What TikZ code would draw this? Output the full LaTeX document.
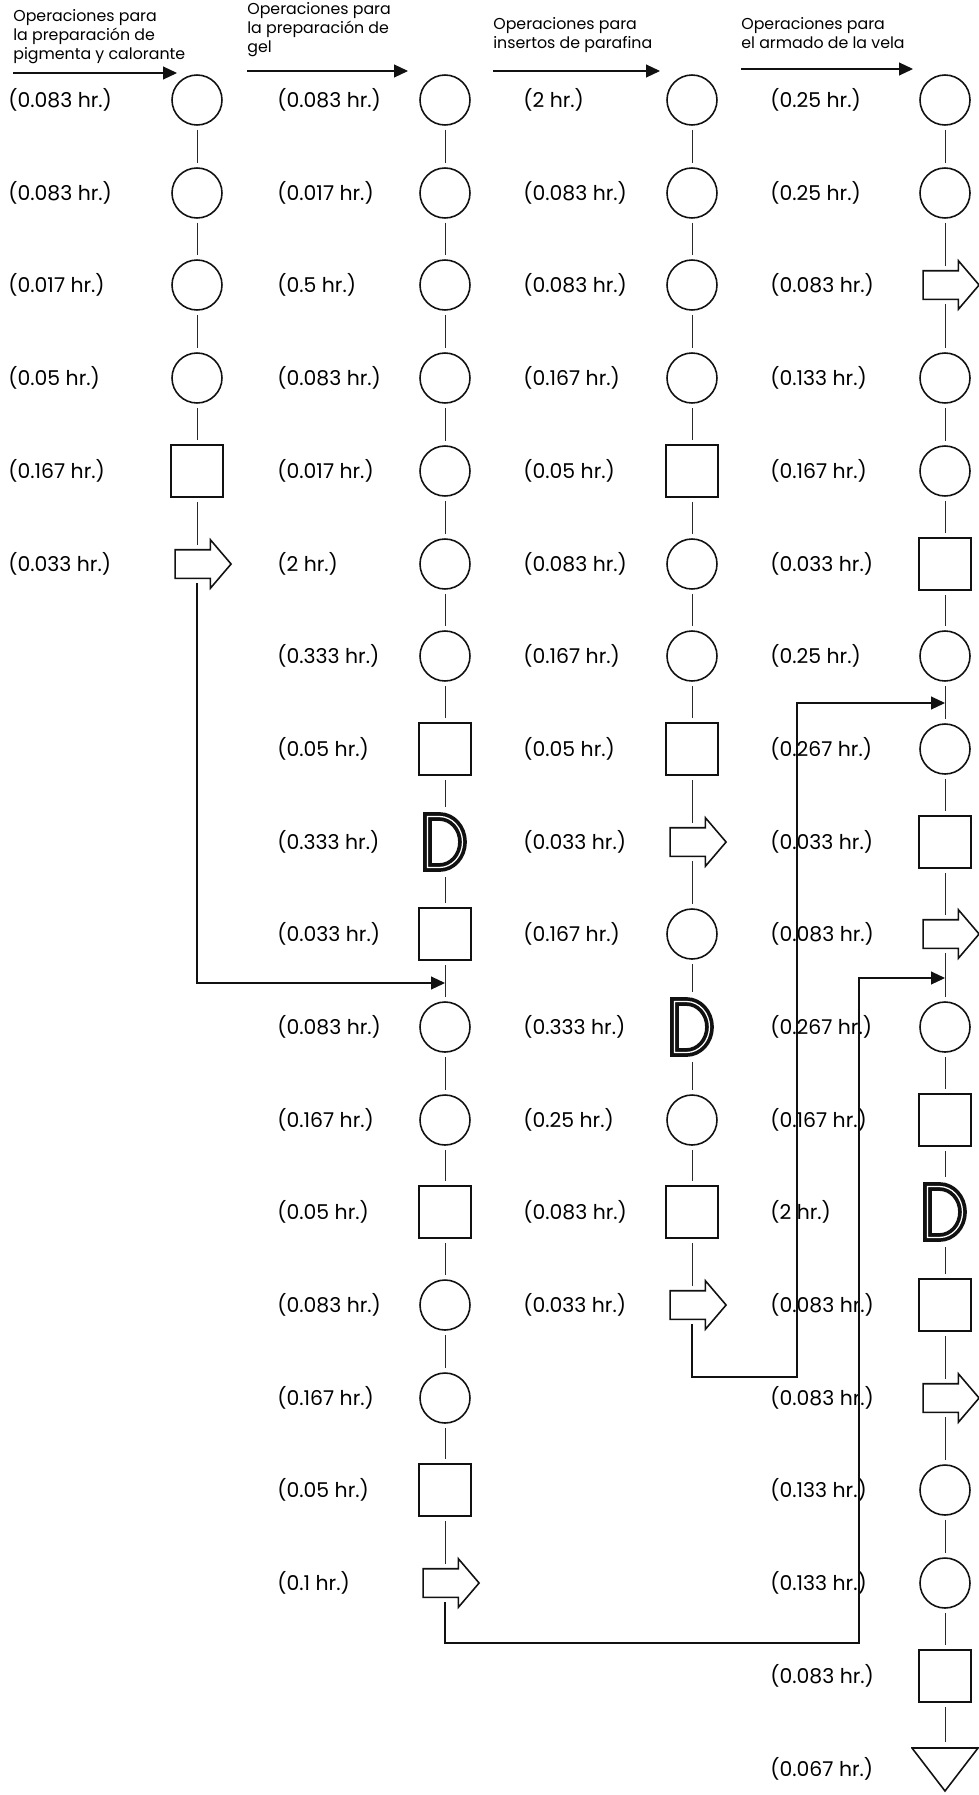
\documentclass[tikz,border=0pt]{standalone}
\usepackage{fontspec}
\setmainfont{Poppins}
\usetikzlibrary{arrows.meta,shapes.arrows}
\definecolor{ink}{HTML}{111111}
\definecolor{linkgray}{HTML}{2A2A2A}
\tikzset{
  oper/.style={draw=ink, circle, minimum size=10mm, inner sep=0pt, outer sep=1mm, line width=0.9pt},
  insp/.style={draw=ink, rectangle, minimum size=10.4mm, inner sep=0pt, outer sep=1mm, line width=0.9pt},
  transp/.style={draw=ink, single arrow, single arrow head extend=2mm, single arrow tip angle=99, inner xsep=0pt, inner ysep=2.7mm, minimum height=11.2mm, outer sep=1mm, line width=0.9pt},
  delaysym/.style={inner sep=0pt, outer sep=1mm, minimum width=8.8mm, minimum height=12mm,
    path picture={\draw[ink, line width=0.75mm, double=white, double distance=0.25mm]
      ([shift={(0.9mm,0.9mm)}]path picture bounding box.south west) -- ([shift={(0.9mm,-0.9mm)}]path picture bounding box.north west)
      -- ++(2.4mm,0) arc[start angle=90, end angle=-90, x radius=4.6mm, y radius=5.1mm] -- cycle;}},
  storesym/.style={inner sep=0pt, outer sep=1mm, minimum width=13.6mm, minimum height=9.2mm,
    path picture={\draw[ink, line width=0.9pt]
      ([shift={(0.2mm,-0.2mm)}]path picture bounding box.north west) -- ([shift={(-0.2mm,-0.2mm)}]path picture bounding box.north east)
      -- ([yshift=0.4mm]path picture bounding box.south) -- cycle;}},
  timelbl/.style={anchor=west, inner sep=0pt, font=\fontsize{11.6}{13}\selectfont},
  hdr/.style={anchor=north west, align=left, inner sep=0pt, font=\fontsize{9}{10.8}\selectfont},
  link/.style={draw=linkgray, line width=0.5pt},
  flow/.style={draw=ink, line width=0.6pt, -{Triangle[length=2.8mm, width=2.6mm]}}
}

\begin{document}
\begin{tikzpicture}[x=0.02cm, y=-0.02cm]
  \useasboundingbox (0,0) rectangle (979,1795);
  \clip (0,0) rectangle (979,1795);

  % headers
  \node[hdr] (hdrA) at (13,9) {Operaciones para\\la preparación de\\pigmenta y calorante};
  \node[hdr] (hdrB) at (247,2) {Operaciones para\\la preparación de\\gel};
  \node[hdr] (hdrC) at (493,17) {Operaciones para\\insertos de parafina};
  \node[hdr] (hdrD) at (741,17) {Operaciones para\\el armado de la vela};
  \coordinate (sA) at (13,73);  \coordinate (eA) at (177,73);
  \coordinate (sB) at (247,71); \coordinate (eB) at (408,71);
  \coordinate (sC) at (493,71); \coordinate (eC) at (660,71);
  \coordinate (sD) at (741,69); \coordinate (eD) at (913,69);

  % pigmento y colorante
  \node[oper] (a1) at (197,100) {};   \node[timelbl] (ta1) at (8,100) {(0.083 hr.)};
  \node[oper] (a2) at (197,193) {};   \node[timelbl] (ta2) at (8,193) {(0.083 hr.)};
  \node[oper] (a3) at (197,285) {};   \node[timelbl] (ta3) at (8,285) {(0.017 hr.)};
  \node[oper] (a4) at (197,378) {};   \node[timelbl] (ta4) at (8,378) {(0.05 hr.)};
  \node[insp] (a5) at (197,471) {};   \node[timelbl] (ta5) at (8,471) {(0.167 hr.)};
  \node[transp] (a6) at (197,564) {}; \node[timelbl] (ta6) at (8,564) {(0.033 hr.)};

  % gel
  \node[oper] (b1) at (445,100) {};   \node[timelbl] (tb1) at (277,100) {(0.083 hr.)};
  \node[oper] (b2) at (445,193) {};   \node[timelbl] (tb2) at (277,193) {(0.017 hr.)};
  \node[oper] (b3) at (445,285) {};   \node[timelbl] (tb3) at (277,285) {(0.5 hr.)};
  \node[oper] (b4) at (445,378) {};   \node[timelbl] (tb4) at (277,378) {(0.083 hr.)};
  \node[oper] (b5) at (445,471) {};   \node[timelbl] (tb5) at (277,471) {(0.017 hr.)};
  \node[oper] (b6) at (445,564) {};   \node[timelbl] (tb6) at (277,564) {(2 hr.)};
  \node[oper] (b7) at (445,656) {};   \node[timelbl] (tb7) at (277,656) {(0.333 hr.)};
  \node[insp] (b8) at (445,749) {};   \node[timelbl] (tb8) at (277,749) {(0.05 hr.)};
  \node[delaysym] (b9) at (445,842) {}; \node[timelbl] (tb9) at (277,842) {(0.333 hr.)};
  \node[insp] (b10) at (445,934) {};  \node[timelbl] (tb10) at (277,934) {(0.033 hr.)};
  \node[oper] (b11) at (445,1027) {}; \node[timelbl] (tb11) at (277,1027) {(0.083 hr.)};
  \node[oper] (b12) at (445,1120) {}; \node[timelbl] (tb12) at (277,1120) {(0.167 hr.)};
  \node[insp] (b13) at (445,1212) {}; \node[timelbl] (tb13) at (277,1212) {(0.05 hr.)};
  \node[oper] (b14) at (445,1305) {}; \node[timelbl] (tb14) at (277,1305) {(0.083 hr.)};
  \node[oper] (b15) at (445,1398) {}; \node[timelbl] (tb15) at (277,1398) {(0.167 hr.)};
  \node[insp] (b16) at (445,1490) {}; \node[timelbl] (tb16) at (277,1490) {(0.05 hr.)};
  \node[transp] (b17) at (445,1583) {}; \node[timelbl] (tb17) at (277,1583) {(0.1 hr.)};

  % insertos de parafina
  \node[oper] (c1) at (692,100) {};   \node[timelbl] (tc1) at (523,100) {(2 hr.)};
  \node[oper] (c2) at (692,193) {};   \node[timelbl] (tc2) at (523,193) {(0.083 hr.)};
  \node[oper] (c3) at (692,285) {};   \node[timelbl] (tc3) at (523,285) {(0.083 hr.)};
  \node[oper] (c4) at (692,378) {};   \node[timelbl] (tc4) at (523,378) {(0.167 hr.)};
  \node[insp] (c5) at (692,471) {};   \node[timelbl] (tc5) at (523,471) {(0.05 hr.)};
  \node[oper] (c6) at (692,564) {};   \node[timelbl] (tc6) at (523,564) {(0.083 hr.)};
  \node[oper] (c7) at (692,656) {};   \node[timelbl] (tc7) at (523,656) {(0.167 hr.)};
  \node[insp] (c8) at (692,749) {};   \node[timelbl] (tc8) at (523,749) {(0.05 hr.)};
  \node[transp] (c9) at (692,842) {}; \node[timelbl] (tc9) at (523,842) {(0.033 hr.)};
  \node[oper] (c10) at (692,934) {};  \node[timelbl] (tc10) at (523,934) {(0.167 hr.)};
  \node[delaysym] (c11) at (692,1027) {}; \node[timelbl] (tc11) at (523,1027) {(0.333 hr.)};
  \node[oper] (c12) at (692,1120) {}; \node[timelbl] (tc12) at (523,1120) {(0.25 hr.)};
  \node[insp] (c13) at (692,1212) {}; \node[timelbl] (tc13) at (523,1212) {(0.083 hr.)};
  \node[transp] (c14) at (692,1305) {}; \node[timelbl] (tc14) at (523,1305) {(0.033 hr.)};

  % armado de la vela
  \node[oper] (d1) at (945,100) {};   \node[timelbl] (td1) at (770,100) {(0.25 hr.)};
  \node[oper] (d2) at (945,193) {};   \node[timelbl] (td2) at (770,193) {(0.25 hr.)};
  \node[transp] (d3) at (945,285) {}; \node[timelbl] (td3) at (770,285) {(0.083 hr.)};
  \node[oper] (d4) at (945,378) {};   \node[timelbl] (td4) at (770,378) {(0.133 hr.)};
  \node[oper] (d5) at (945,471) {};   \node[timelbl] (td5) at (770,471) {(0.167 hr.)};
  \node[insp] (d6) at (945,564) {};   \node[timelbl] (td6) at (770,564) {(0.033 hr.)};
  \node[oper] (d7) at (945,656) {};   \node[timelbl] (td7) at (770,656) {(0.25 hr.)};
  \node[oper] (d8) at (945,749) {};   \node[timelbl] (td8) at (770,749) {(0.267 hr.)};
  \node[insp] (d9) at (945,842) {};   \node[timelbl] (td9) at (770,842) {(0.033 hr.)};
  \node[transp] (d10) at (945,934) {}; \node[timelbl] (td10) at (770,934) {(0.083 hr.)};
  \node[oper] (d11) at (945,1027) {}; \node[timelbl] (td11) at (770,1027) {(0.267 hr.)};
  \node[insp] (d12) at (945,1120) {}; \node[timelbl] (td12) at (770,1120) {(0.167 hr.)};
  \node[delaysym] (d13) at (945,1212) {}; \node[timelbl] (td13) at (770,1212) {(2 hr.)};
  \node[insp] (d14) at (945,1305) {}; \node[timelbl] (td14) at (770,1305) {(0.083 hr.)};
  \node[transp] (d15) at (945,1398) {}; \node[timelbl] (td15) at (770,1398) {(0.083 hr.)};
  \node[oper] (d16) at (945,1490) {}; \node[timelbl] (td16) at (770,1490) {(0.133 hr.)};
  \node[oper] (d17) at (945,1583) {}; \node[timelbl] (td17) at (770,1583) {(0.133 hr.)};
  \node[insp] (d18) at (945,1676) {}; \node[timelbl] (td18) at (770,1676) {(0.083 hr.)};
  \node[storesym] (d19) at (945,1770) {}; \node[timelbl] (td19) at (770,1769) {(0.067 hr.)};

  % vertical links
  \draw[link] (a1) -- (a2) -- (a3) -- (a4) -- (a5) -- (a6);
  \draw[link] (b1) -- (b2) -- (b3) -- (b4) -- (b5) -- (b6) -- (b7) -- (b8) -- (b9) -- (b10) -- (b11) -- (b12) -- (b13) -- (b14) -- (b15) -- (b16) -- (b17);
  \draw[link] (c1) -- (c2) -- (c3) -- (c4) -- (c5) -- (c6) -- (c7) -- (c8) -- (c9) -- (c10) -- (c11) -- (c12) -- (c13) -- (c14);
  \draw[link] (d1) -- (d2) -- (d3) -- (d4) -- (d5) -- (d6) -- (d7) -- (d8) -- (d9) -- (d10) -- (d11) -- (d12) -- (d13) -- (d14) -- (d15) -- (d16) -- (d17) -- (d18) -- (d19);

  % flows between lines
  \coordinate (inB) at (445,983);
  \coordinate (inD1) at (945,703);
  \coordinate (inD2) at (945,978);
  \coordinate (bendC) at (797,1377);
  \coordinate (bendB) at (859,1643);
  \draw[flow] (sA) -- (eA);
  \draw[flow] (sB) -- (eB);
  \draw[flow] (sC) -- (eC);
  \draw[flow] (sD) -- (eD);
  \draw[flow] (a6) |- (inB);
  \draw[flow] (c14) |- (bendC) |- (inD1);
  \draw[flow] (b17) |- (bendB) |- (inD2);
\end{tikzpicture}
\end{document}
